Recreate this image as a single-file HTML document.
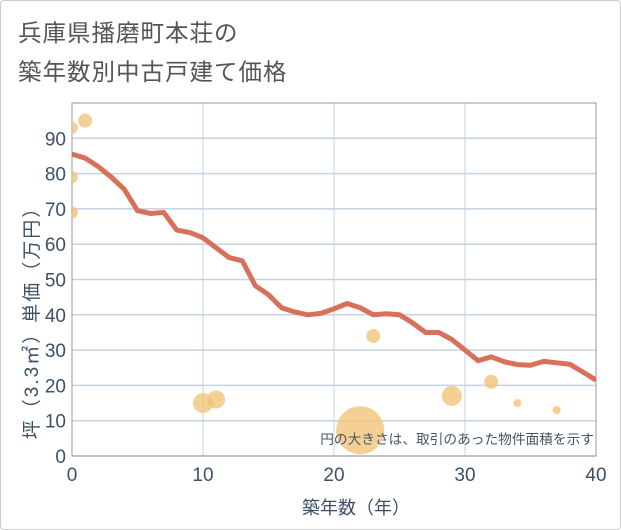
<!DOCTYPE html>
<html><head><meta charset="utf-8"><style>
body{margin:0;background:#fff;font-family:"Liberation Sans","Noto Sans CJK JP",sans-serif}
#frame{position:absolute;left:0;top:0;width:619px;height:528px;border:1px solid #ccc;border-radius:4px}
.title{position:absolute;left:18px;font-size:23.5px;color:#555;letter-spacing:1px}
</style></head><body>
<div id="frame"></div>
<div class="title" style="top:14px">兵庫県播磨町本荘の</div>
<div class="title" style="top:53px">築年数別中古戸建て価格</div>
<svg id="chart" width="621" height="530" style="position:absolute;left:0;top:0"></svg>
<script>
const xTicks=[0,10,20,30,40];
const yTicks=[0,10,20,30,40,50,60,70,80,90];
const lineX=[0,1,2,3,4,5,6,7,8,9,10,11,12,13,14,15,16,17,18,19,20,21,22,23,24,25,26,27,28,29,30,31,32,33,34,35,36,37,38,39,40];
const lineY=[85.5,84.4,82,79,75.5,69.5,68.7,69,64,63.3,61.8,59,56.2,55.3,48.2,45.7,42,40.8,40,40.4,41.7,43.2,42,40,40.3,40,37.7,35,35,33,30,27,28.1,26.7,25.9,25.7,26.8,26.4,26,23.8,21.5];
const bubX=[0,1,0,0,10,11,22,23,29,32,34,37];
const bubY=[93,95,79,69,15,16,7.3,34,17,21,15,13];
const bubR=[6,7,6,6,10,9,24,7,10,7,4,4];
const L=72,R=596,T=103,B=456,xmax=40,ymax=100;
const sx=v=>L+(R-L)*v/xmax, sy=v=>B-(B-T)*v/ymax;
const svg=document.getElementById('chart'),NS='http://www.w3.org/2000/svg';
function mk(t,a,p){const e=document.createElementNS(NS,t);for(const k in a)e.setAttribute(k,a[k]);(p||svg).appendChild(e);return e;}
const cp=mk('clipPath',{id:'cp'});mk('rect',{x:L,y:T,width:R-L,height:B-T},cp);
yTicks.forEach(v=>{
 const g=mk('line',{x1:L,x2:R,y1:sy(v),y2:sy(v),stroke:'#c5d3e3','stroke-width':1.5});
 
 
 const t=mk('text',{x:L-6,y:sy(v)+7,'text-anchor':'end','font-size':19,fill:'#3d5068'});t.textContent=v;
 
 
});
xTicks.forEach(v=>{
 const g=mk('line',{x1:sx(v),x2:sx(v),y1:T,y2:B,stroke:'#c5d3e3','stroke-width':1});
 
 
 const t=mk('text',{x:sx(v),y:B+25,'text-anchor':'middle','font-size':19,fill:'#3d5068'});t.textContent=v;
 
 
});
const fr=mk('rect',{x:L,y:T,width:R-L,height:B-T,fill:'none',stroke:'#999','stroke-width':1});


const bg=mk('g',{'clip-path':'url(#cp)'});
bubX.forEach((x,i)=>{
 const c=mk('circle',{cx:sx(x),cy:sy(bubY[i]),r:bubR[i],fill:'#f2c071','fill-opacity':0.75},bg);
 
 
});
const ln=mk('polyline',{points:lineX.map((x,i)=>sx(x)+','+sy(lineY[i])).join(' '),fill:'none',stroke:'#d9705a','stroke-width':5,'stroke-linejoin':'round'},bg);


const note=mk('text',{x:R-2,y:444,'text-anchor':'end','font-size':13.7,fill:'#445566'});note.textContent='円の大きさは、取引のあった物件面積を示す';


const xt=mk('text',{x:(L+R)/2+22,y:514,'text-anchor':'middle','font-size':18,fill:'#3d5068'});xt.textContent='築年数（年）';


const yt=mk('text',{x:0,y:0,'text-anchor':'middle','font-size':19,'letter-spacing':2,fill:'#3d5068',transform:'translate(38,318) rotate(-90)'});yt.textContent='坪（3.3㎡）単価（万円）';


</script>
</body></html>
